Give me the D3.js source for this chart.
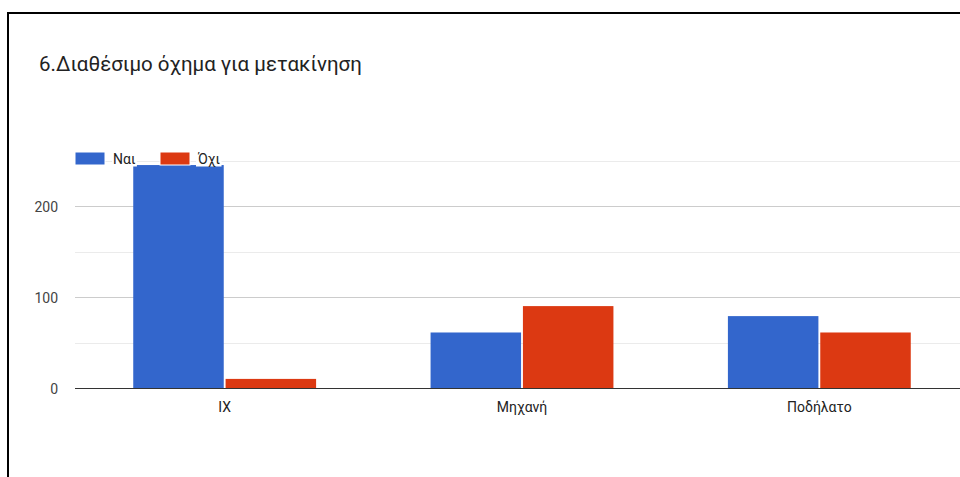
<!DOCTYPE html>
<html>
<head>
<meta charset="utf-8">
<script src="https://cdn.jsdelivr.net/npm/d3@7"></script>
<style>
  html, body { margin: 0; padding: 0; background: #fff; }
  svg { display: block; }
</style>
</head>
<body>
<svg id="chart" width="960" height="477"></svg>
<script>
// Vehicle availability survey: counts per vehicle type
const categories = ["IX", "Μηχανή", "Ποδήλατο"];
const seriesNames = ["Ναι", "Όχι"];
const yesValues = [245, 61, 79];
const noValues = [10, 90, 61];
const majorTicks = [0, 100, 200];
const minorTicks = [50, 150, 250];
const colors = ["#3366cc", "#dc3912"];

const svg = d3.select("#chart");
const W = 960, H = 477;

// frame
svg.append("rect").attr("x", 0).attr("y", 0).attr("width", W).attr("height", H).attr("fill", "#fff");
svg.append("path")
  .attr("d", "M8,477 L8,13 L960,13")
  .attr("fill", "none").attr("stroke", "#000").attr("stroke-width", 2);

// title
svg.append("text")
  .attr("x", 39).attr("y", 71)
  .attr("font-family", "Roboto, 'Noto Sans', sans-serif")
  .attr("font-size", 20.5).attr("fill", "#222")
  .text("6.Διαθέσιμο όχημα για μετακίνηση");

const plotLeft = 76, plotRight = 968;
const y = d3.scaleLinear().domain([0, 100]).range([388, 297]);
const x0 = d3.scaleBand().domain(categories).range([plotLeft, plotRight]).paddingInner(0.385).paddingOuter(0.1925);
const x1 = d3.scaleBand().domain(seriesNames).range([0, x0.bandwidth()]).paddingInner(0.02);

const font = "Roboto, Arial, sans-serif";

// gridlines
svg.append("g").selectAll("line").data(minorTicks).join("line")
  .attr("x1", 75).attr("x2", W)
  .attr("y1", d => Math.round(y(d)) + 0.5).attr("y2", d => Math.round(y(d)) + 0.5)
  .attr("stroke", "#ebebeb").attr("stroke-width", 1);
svg.append("g").selectAll("line").data(majorTicks.filter(d => d > 0)).join("line")
  .attr("x1", 75).attr("x2", W)
  .attr("y1", d => Math.round(y(d)) + 0.5).attr("y2", d => Math.round(y(d)) + 0.5)
  .attr("stroke", "#cccccc").attr("stroke-width", 1);

// y axis labels
svg.append("g").selectAll("text").data(majorTicks).join("text")
  .attr("x", 58).attr("y", d => y(d) + 5.5)
  .attr("text-anchor", "end")
  .attr("font-family", font).attr("font-size", 14).attr("fill", "#444")
  .text(d => d);

// bars
const rows = categories.map((c, i) => ({ cat: c, vals: [yesValues[i], noValues[i]] }));
const groups = svg.append("g").selectAll("g").data(rows).join("g")
  .attr("transform", d => `translate(${x0(d.cat)},0)`);
groups.selectAll("rect").data(d => d.vals.map((v, j) => ({ name: seriesNames[j], v, j })))
  .join("rect")
  .attr("x", d => x1(d.name))
  .attr("width", x1.bandwidth())
  .attr("y", d => y(d.v))
  .attr("height", d => y(0) - y(d.v))
  .attr("fill", d => colors[d.j]);

// baseline
svg.append("line")
  .attr("x1", 75).attr("x2", W).attr("y1", 388.5).attr("y2", 388.5)
  .attr("stroke", "#333").attr("stroke-width", 1);

// category labels
svg.append("g").selectAll("text").data(categories).join("text")
  .attr("x", d => x0(d) + x0.bandwidth() / 2).attr("y", 412)
  .attr("text-anchor", "middle")
  .attr("font-family", font).attr("font-size", 14).attr("fill", "#222")
  .text(d => d);

// legend
const legendX = [75, 160];
const leg = svg.append("g").selectAll("g").data(seriesNames).join("g")
  .attr("transform", (d, i) => `translate(${legendX[i]},152)`);
leg.append("rect").attr("x", 0).attr("y", 0).attr("width", 30).attr("height", 13)
  .attr("fill", (d, i) => colors[i]).attr("stroke", "#fff").attr("stroke-width", 1);
leg.each(function(d) {
  const g = d3.select(this);
  const t = g.append("text").attr("x", 38).attr("y", 11.5)
    .attr("font-family", font).attr("font-size", 14).attr("fill", "#222").text(d);
  const bb = t.node().getBBox();
  g.insert("rect", "text")
    .attr("x", bb.x - 1).attr("y", bb.y).attr("width", bb.width + 2).attr("height", bb.height)
    .attr("fill", "#fff");
});
</script>
</body>
</html>
